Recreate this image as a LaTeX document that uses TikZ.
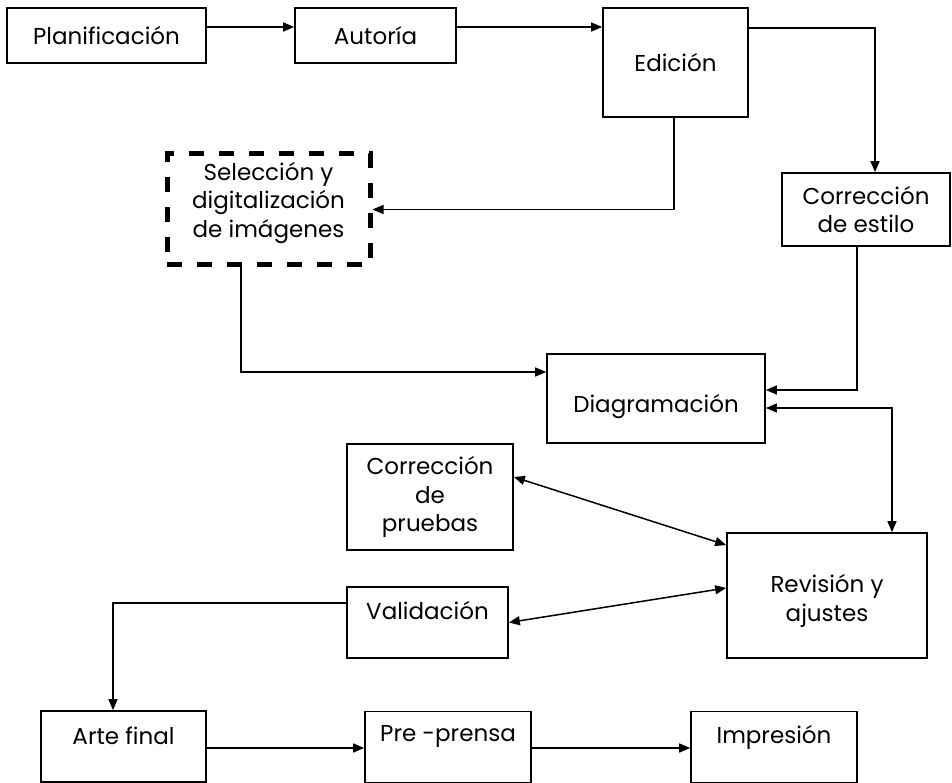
\documentclass[tikz,border=0pt]{standalone}
\usepackage{fontspec}
\setmainfont{Poppins}
\usetikzlibrary{arrows.meta}
\begin{document}
\begin{tikzpicture}[x=1pt,y=-1pt,
  txt/.style={font=\fontsize{23}{28.5}\selectfont},
  box/.style={draw, line width=1.7pt, inner sep=0pt, align=center, txt},
  dbox/.style={box, line width=5pt, dash pattern=on 15pt off 15pt},
  lbl/.style={txt, align=center, anchor=center, inner sep=0pt},
  arr/.style={line width=1.5pt, -{Triangle[length=11pt,width=9pt]}},
  darr/.style={line width=1.5pt, {Triangle[length=11pt,width=9pt]}-{Triangle[length=11pt,width=9pt]}}]
\useasboundingbox[fill=white] (0,0) rectangle (952,783);
% boxes
\node[box, minimum width=199pt, minimum height=55pt] (plan) at (106.5,35.5) {Planificación};
\node[box, minimum width=161pt, minimum height=55pt] (aut) at (375.5,35.5) {Autoría};
\node[box, minimum width=145pt, minimum height=109pt] (edi) at (675.5,62.5) {Edición};
\node[dbox, minimum width=203pt, minimum height=111pt] (sel) at (268.5,209.5) {};
\node[lbl] (selt) at (268.5,203) {Selección y\\digitalización\\de imágenes};
\node[box, minimum width=168pt, minimum height=73pt] (ces) at (866,209.5) {Corrección\\de estilo};
\node[box, minimum width=218pt, minimum height=89pt] (dia) at (656,398.5) {};
\node[lbl] (diat) at (656,407) {Diagramación};
\node[box, minimum width=166pt, minimum height=106pt] (cpr) at (430,497) {Corrección\\de\\pruebas};
\node[box, minimum width=200pt, minimum height=125pt] (rev) at (827,595.5) {};
\node[lbl] (revt) at (827,601) {Revisión y\\ajustes};
\node[box, minimum width=161pt, minimum height=71pt] (val) at (427.5,622.5) {};
\node[lbl] (valt) at (427.5,611) {Validación};
\node[box, minimum width=165pt, minimum height=71pt] (art) at (123.5,746.5) {};
\node[lbl] (artt) at (123.5,736) {Arte final};
\node[box, minimum width=166pt, minimum height=71pt] (pre) at (448,747) {};
\node[lbl] (pret) at (448,736) {Pre -prensa};
\node[box, minimum width=166pt, minimum height=71pt] (imp) at (774,747) {};
\node[lbl] (impt) at (774,737) {Impresión};
% connectors
\draw[arr] ([yshift=8.5pt]plan.east) -- ([yshift=8.5pt]aut.west);
\draw[arr] ([yshift=8.5pt]aut.east) -- ([yshift=35.5pt]edi.west);
\draw[arr] ([yshift=34.5pt]edi.east) -| ([xshift=9pt]ces.north);
\draw[arr] ([xshift=-1.5pt]edi.south) |- (sel.east);
\draw[arr] ([xshift=-27.5pt]sel.south) |- ([yshift=26.5pt]dia.west);
\draw[arr] ([xshift=-9pt]ces.south) |- ([yshift=8.5pt]dia.east);
\draw[darr] ([yshift=-9.5pt]dia.east) -| ([xshift=65pt]rev.north);
\draw[darr] ([yshift=20pt]cpr.east) -- ([yshift=50.5pt]rev.west);
\draw[darr] (val.east) -- ([yshift=7.5pt]rev.west);
\draw[arr] ([yshift=19.5pt]val.west) -| ([xshift=-10.5pt]art.north);
\draw[arr] ([yshift=-1.5pt]art.east) -- ([yshift=-1pt]pre.west);
\draw[arr] ([yshift=-1pt]pre.east) -- ([yshift=-1pt]imp.west);
\end{tikzpicture}
\end{document}
